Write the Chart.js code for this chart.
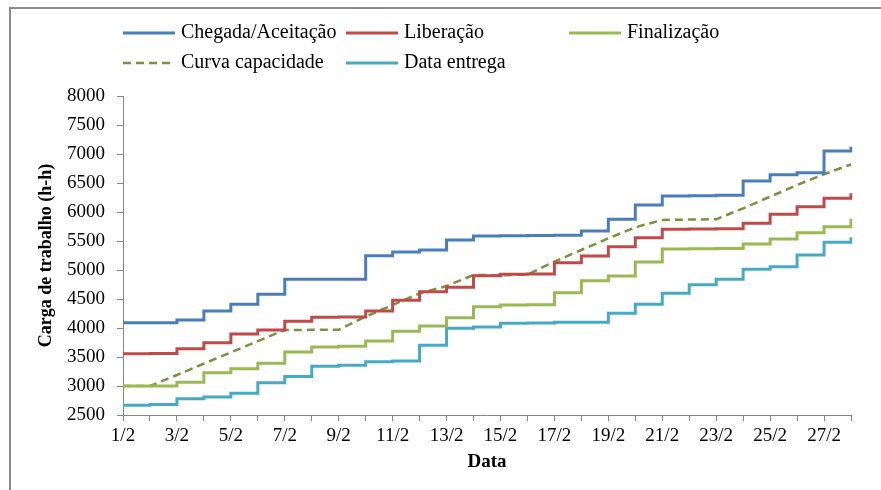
<!doctype html>
<html lang="pt">
  <head>
    <meta charset="utf-8">
    <title>Carga de trabalho</title>
    <script src="https://cdn.jsdelivr.net/npm/chart.js@4.4.1/dist/chart.umd.min.js"></script>
    <style>
      html, body { margin: 0; padding: 0; background: #fff; }
    </style>
  </head>
  <body>
    <canvas id="myChart" width="881" height="490"></canvas>

    <script>
      // Data
      const days = ['1/2','2/2','3/2','4/2','5/2','6/2','7/2','8/2','9/2','10/2','11/2','12/2','13/2','14/2',
                    '15/2','16/2','17/2','18/2','19/2','20/2','21/2','22/2','23/2','24/2','25/2','26/2','27/2','28/2'];

      const chegada = [4092, 4092, 4140, 4295, 4410, 4580, 4840, 4840, 4840, 5245, 5310, 5345, 5517, 5586,
                       5590, 5595, 5600, 5672, 5874, 6121, 6278, 6282, 6290, 6534, 6644, 6678, 7052, 7126];
      const liberacao = [3557, 3560, 3644, 3747, 3897, 3966, 4115, 4184, 4190, 4293, 4477, 4627, 4701, 4902,
                         4925, 4930, 5126, 5241, 5402, 5557, 5701, 5705, 5710, 5805, 5960, 6092, 6236, 6322];
      const finalizacao = [3000, 3000, 3063, 3230, 3299, 3391, 3586, 3672, 3684, 3776, 3943, 4035, 4178, 4368,
                           4397, 4400, 4609, 4816, 4897, 5138, 5362, 5365, 5370, 5448, 5535, 5644, 5747, 5879];
      const capacidade = [3000, 3000, 3190, 3385, 3580, 3775, 3966, 3968, 3970, 4195, 4397, 4598, 4724, 4914,
                          4910, 4920, 5144, 5345, 5546, 5736, 5862, 5870, 5874, 6063, 6264, 6466, 6650, 6822];
      const entrega = [2667, 2680, 2782, 2810, 2874, 3057, 3165, 3339, 3356, 3420, 3431, 3701, 3994, 4017,
                       4081, 4085, 4098, 4100, 4253, 4408, 4598, 4747, 4839, 5011, 5057, 5259, 5477, 5563];

      const yMin = 2500;
      const yMax = 8000;
      const yStep = 500;

      const serif = "'Liberation Serif', 'Times New Roman', serif";
      Chart.defaults.font.family = serif;
      Chart.defaults.color = '#000';

      // Two-row legend like the original + frame around the figure
      const legendAndFrame = {
        id: 'legendAndFrame',
        beforeDraw(chart) {
          const ctx = chart.ctx;
          ctx.save();
          ctx.fillStyle = '#fff';
          ctx.fillRect(0, 0, chart.width, chart.height);
          ctx.strokeStyle = '#8a8a8a';
          ctx.lineWidth = 2;
          ctx.strokeRect(10, 8, chart.width + 20, chart.height + 20);
          ctx.restore();
        },
        afterDraw(chart) {
          const ctx = chart.ctx;
          const slots = [[123, 33], [346, 33], [569, 33], [123, 63], [346, 63]];
          ctx.save();
          ctx.font = '20px ' + serif;
          ctx.textBaseline = 'middle';
          ctx.fillStyle = '#000';
          chart.data.datasets.forEach((ds, i) => {
            const [x, y] = slots[i];
            ctx.beginPath();
            ctx.strokeStyle = ds.borderColor;
            ctx.lineWidth = ds.borderWidth;
            ctx.setLineDash(ds.borderDash || []);
            ctx.moveTo(x, y);
            ctx.lineTo(x + 52, y);
            ctx.stroke();
            ctx.setLineDash([]);
            ctx.fillText(ds.label, x + 58, y);
          });
          ctx.restore();
        }
      };

      const ctx = document.getElementById('myChart');

      const myChart = new Chart(ctx, {
        type: 'line',
        data: {
          labels: days,
          datasets: [
            { label: 'Chegada/Aceitação', data: chegada, borderColor: '#4a7ebb', borderWidth: 3, stepped: true },
            { label: 'Liberação', data: liberacao, borderColor: '#be4b48', borderWidth: 3, stepped: true },
            { label: 'Finalização', data: finalizacao, borderColor: '#98b954', borderWidth: 3, stepped: true },
            { label: 'Curva capacidade', data: capacidade, borderColor: '#77933c', borderWidth: 2.5, borderDash: [8, 5] },
            { label: 'Data entrega', data: entrega, borderColor: '#46aac5', borderWidth: 3, stepped: true }
          ]
        },
        options: {
          responsive: false,
          animation: false,
          elements: { point: { radius: 0 } },
          layout: { padding: { top: 96, right: 30, bottom: 10, left: 10 } },
          plugins: {
            legend: { display: false },
            tooltip: { enabled: false }
          },
          scales: {
            x: {
              offset: false,
              afterFit: function(scale) { scale.height = 65; },
              border: { color: '#868686', width: 1 },
              grid: { drawOnChartArea: false, drawTicks: true, tickLength: 6, tickColor: '#868686' },
              ticks: {
                autoSkip: false,
                maxRotation: 0,
                minRotation: 0,
                padding: 4,
                font: { size: 19 },
                callback: function(value, index) {
                  return index % 2 === 0 ? this.getLabelForValue(value) : '';
                }
              },
              title: {
                display: true,
                text: 'Data',
                font: { size: 19, weight: 'bold' },
                padding: { top: 0, bottom: 7 }
              }
            },
            y: {
              min: yMin,
              max: yMax,
              afterFit: function(scale) { scale.width = 113; },
              border: { color: '#868686', width: 1 },
              grid: { drawOnChartArea: false, drawTicks: true, tickLength: 6, tickColor: '#868686' },
              ticks: {
                stepSize: yStep,
                padding: 12,
                font: { size: 19 },
                callback: function(value) { return String(value); }
              },
              title: {
                display: true,
                text: 'Carga de trabalho (h-h)',
                font: { size: 18, weight: 'bold' },
                padding: { top: 26, bottom: 0 }
              }
            }
          }
        },
        plugins: [legendAndFrame]
      });
    </script>
  </body>
</html>
